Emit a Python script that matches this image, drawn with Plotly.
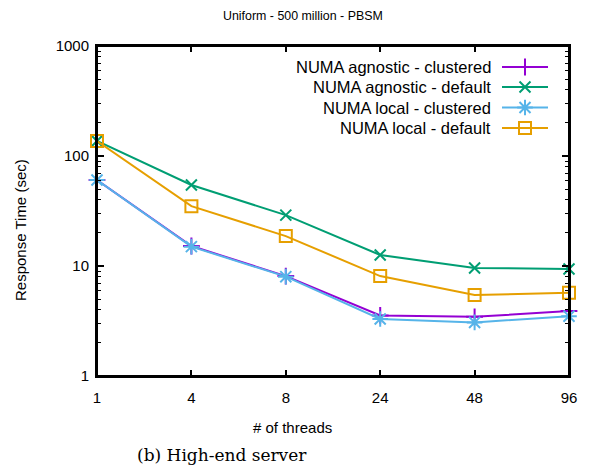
import plotly.graph_objects as go

threads = ["1", "4", "8", "24", "48", "96"]
agnostic_clustered = [60.5, 15.2, 8.1, 3.55, 3.45, 3.9]
agnostic_default = [137, 54.5, 29, 12.6, 9.6, 9.4]
local_clustered = [60.5, 15.0, 8.0, 3.3, 3.07, 3.5]
local_default = [137, 35, 18.7, 8.1, 5.45, 5.7]

series = [
    ("NUMA agnostic - clustered", agnostic_clustered, "#9400D3", "cross-thin", 12),
    ("NUMA agnostic - default", agnostic_default, "#009E73", "x-thin", 11),
    ("NUMA local - clustered", local_clustered, "#56B4E9", "asterisk", 13),
    ("NUMA local - default", local_default, "#E69F00", "square-open", 12),
]

xi = list(range(len(threads)))
FONT = "Liberation Sans, Arial, sans-serif"

# page body has an 8px margin; plot area in page pixels: x 97..569, y 46..376
OFF = 8
PL, PR, PT, PB = 97, 569, 46, 376
PW, PH = PR - PL, PB - PT


def px(x):
    return (x - PL) / PW


def py(y):
    return (PB - y) / PH


fig = go.Figure()
for name, vals, col, sym, size in series:
    fig.add_trace(go.Scatter(
        x=xi, y=vals, mode="lines+markers", name=name,
        line=dict(color=col, width=2),
        marker=dict(symbol=sym, size=size, color=col,
                    line=dict(color=col, width=2)),
        cliponaxis=False, showlegend=False,
    ))

# custom gnuplot-style legend (text right, sample on right)
rows = [67, 87, 107.5, 128]
annotations = []
for (name, vals, col, sym, size), ry in zip(series, rows):
    fig.add_trace(go.Scatter(
        x=[px(502), px(548)], y=[py(ry), py(ry)], mode="lines",
        line=dict(color=col, width=2), xaxis="x2", yaxis="y2",
        showlegend=False, hoverinfo="skip", cliponaxis=False,
    ))
    fig.add_trace(go.Scatter(
        x=[px(525)], y=[py(ry)], mode="markers",
        marker=dict(symbol=sym, size=size, color=col,
                    line=dict(color=col, width=2)),
        xaxis="x2", yaxis="y2",
        showlegend=False, hoverinfo="skip", cliponaxis=False,
    ))
    annotations.append(dict(
        x=px(493), y=py(ry), xref="x2", yref="y2", text=name, showarrow=False,
        xanchor="right", yanchor="middle",
        font=dict(family=FONT, size=16.5, color="black"),
    ))

annotations.append(dict(
    x=px(292), y=py(428), xref="paper", yref="paper",
    text="# of threads", showarrow=False, xanchor="center", yanchor="middle",
    font=dict(family=FONT, size=15, color="black"),
))
annotations.append(dict(
    x=px(20), y=py(230), xref="paper", yref="paper",
    text="Response Time (sec)", showarrow=False, textangle=-90,
    xanchor="center", yanchor="middle",
    font=dict(family=FONT, size=15, color="black"),
))
annotations.append(dict(
    x=px(135), y=py(455), xref="paper", yref="paper", text="(b) High-end server",
    showarrow=False, xanchor="left", yanchor="middle",
    font=dict(family="DejaVu Serif, Liberation Serif, serif", size=17, color="black"),
))
annotations.append(dict(
    x=px(303), y=py(16), xref="paper", yref="paper",
    text="Uniform - 500 million - PBSM", showarrow=False,
    xanchor="center", yanchor="middle",
    font=dict(family=FONT, size=12.4, color="black"),
))

minor_vals = [m * 10 ** e for e in range(0, 3) for m in range(2, 10)]

fig.update_layout(
    width=594 - OFF, height=470 - OFF,
    margin=dict(l=PL - OFF, r=594 - PR, t=PT - OFF, b=470 - PB),
    paper_bgcolor="white", plot_bgcolor="white",
    font=dict(family=FONT, color="black"),
    xaxis=dict(
        tickvals=xi, ticktext=threads, range=[0, 5],
        showgrid=False, zeroline=False, showline=True, linecolor="black",
        linewidth=2, mirror="ticks", ticks="inside", ticklen=6, tickwidth=1.5,
        tickcolor="black", tickfont=dict(size=15), title=None,
        ticklabelstandoff=7,
    ),
    yaxis=dict(
        type="log", range=[0, 3], tickvals=[1, 10, 100, 1000],
        ticktext=["1", "10", "100", "1000"],
        showgrid=False, zeroline=False, showline=True, linecolor="black",
        linewidth=2, mirror="ticks", ticks="inside", ticklen=7, tickwidth=1.5,
        tickcolor="black", tickfont=dict(size=15),
        minor=dict(tickvals=minor_vals, ticks="inside", ticklen=4,
                   tickwidth=1.2, tickcolor="black", showgrid=False),
        title=None, ticklabelstandoff=3,
    ),
    xaxis2=dict(overlaying="x", range=[0, 1], visible=False),
    yaxis2=dict(overlaying="y", range=[0, 1], visible=False),
    annotations=annotations,
    shapes=[dict(type="rect", xref="x2", yref="y2",
                 x0=0.0, x1=1.0, y0=0.0, y1=1.0,
                 line=dict(color="black", width=2))],
)

fig.write_html("out.html")
